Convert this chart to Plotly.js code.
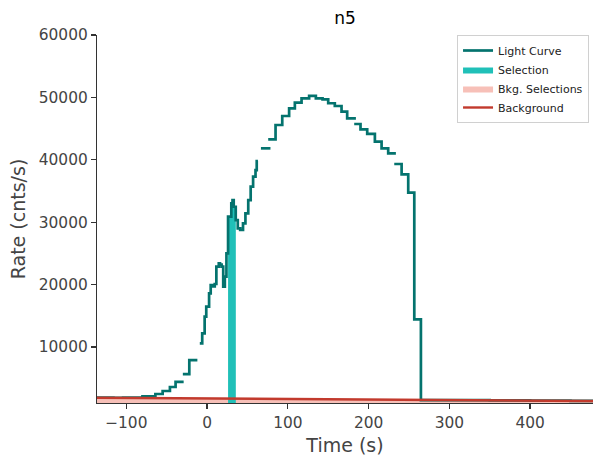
<!DOCTYPE html>
<html>
<head>
<meta charset="utf-8">
<script src="https://cdn.plot.ly/plotly-3.0.1.min.js"></script>
<style>html,body{margin:0;padding:0;background:#fff;}#chart{width:602px;height:465px;}</style>
</head>
<body>
<div id="chart"></div>
<script>
// Light curve (step, bin left edges; null = gap between segments)
const lcTime = [
  -140, -128, -116, -104, -92, -80, -64, -55, -46, -39, -29, null,
  -30, -22, -12, null,
  -9, -6, -3, -1, 2.5, 4.5, 7.5, 9.5, 11.5, 14.5, 16, 18, 20, 22, 24, 26, 28, 30, 31.5, 33, 35.5, 38, 41, 44.5, 47.5, 51, 54, 57, 60, 61.5, 63, null,
  66.7, 78.5, null,
  75.7, 84.8, 93.1, 101.6, 108.7, 117, 126.4, 134.7, 143, 150, 158.2, 166.5, 173.5, 184.3, null,
  182.2, 190, 198.3, 207.8, 216.1, 224.3, 233.8, null,
  231.8, 240.9, 249.1, 256.6, 264.8, 300, 350, 400, 450, 480
];
const lcRate = [
  1880, 1900, 1870, 1890, 1900, 2080, 2470, 2950, 3590, 4400, 4400, null,
  5670, 7900, 7900, null,
  10590, 12200, 14860, 16460, 18600, 19940, 19700, 20100, 22870, 23410, 23200, 22870, 19680, 21280, 25000, 30880, 30880, 33020, 33550, 32480, 30350, 29020, 28750, 29820, 31430, 33550, 35690, 37290, 38340, 39800, 39800, null,
  41840, 41840, null,
  43290, 45580, 47020, 48250, 49150, 49860, 50230, 49860, 49700, 49060, 48620, 47710, 46650, 46650, null,
  45740, 44890, 44140, 42900, 41840, 41040, 41040, null,
  39330, 37680, 34730, 14440, 1500, 1480, 1440, 1400, 1360, 1340
];

// Source selection
const selTime = [26, 28, 30, 31.5, 33, 35.6];
const selRate = [30880, 30880, 33020, 33550, 32480, 32480];

// Background selections (null = gap)
const bkgSelTime = [-140, -128, -116, -104, -92, -86, null, 300, 350, 400, 450, 480];
const bkgSelRate = [1880, 1900, 1870, 1890, 1900, 1900, null, 1480, 1440, 1400, 1360, 1340];

// Background model
const bkgTime = [-140, 0, 100, 200, 300, 400, 480];
const bkgRate = [1880, 1760, 1670, 1585, 1500, 1415, 1345];

const xTicks = [-100, 0, 100, 200, 300, 400];
const yTicks = [10000, 20000, 30000, 40000, 50000, 60000];

const FONT = 'DejaVu Sans, sans-serif';
const fmt = v => (v < 0 ? '\u2212' + Math.abs(v) : String(v));
const traces = [
  {x: bkgSelTime, y: bkgSelRate, type: 'scatter', mode: 'lines', line: {shape: 'hv', width: 0, color: 'rgba(240,130,115,0.55)'},
   fill: 'tozeroy', fillcolor: 'rgba(240,140,125,0.55)', name: 'Bkg. Selections', legendrank: 3, connectgaps: false},
  {x: selTime, y: selRate, type: 'scatter', mode: 'lines', line: {shape: 'hv', width: 0, color: '#20c0b8'},
   fill: 'tozeroy', fillcolor: '#20c0b8', name: 'Selection', legendrank: 2},
  {x: lcTime, y: lcRate, type: 'scatter', mode: 'lines', line: {shape: 'hv', width: 2.7, color: '#04736e'},
   name: 'Light Curve', legendrank: 1, connectgaps: false},
  {x: bkgTime, y: bkgRate, type: 'scatter', mode: 'lines', line: {width: 2.4, color: '#c23a2d'},
   name: 'Background', legendrank: 4}
];

const layout = {
  width: 602, height: 465,
  margin: {l: 97, r: 9, t: 35, b: 62},
  paper_bgcolor: '#fff', plot_bgcolor: '#fff',
  font: {family: FONT, color: '#333'},
  title: {text: 'n5', font: {family: FONT, size: 17, color: '#000'}, x: 0.573, xanchor: 'center', y: 0.961, yanchor: 'middle'},
  showlegend: true,
  legend: {x: 0.992, xanchor: 'right', y: 1.0, yanchor: 'top', bgcolor: '#fff', bordercolor: '#d0d0d0', borderwidth: 1,
           font: {family: FONT, size: 11, color: '#222'}, traceorder: 'normal'},
  xaxis: {range: [-136.3, 477.9], tickvals: xTicks, ticktext: xTicks.map(fmt), showgrid: false, zeroline: false,
          showline: true, linecolor: '#333', linewidth: 1.2, ticks: 'outside', ticklen: 5, tickwidth: 1.2, tickcolor: '#333',
          tickfont: {family: FONT, size: 15.4, color: '#444'},
          title: {text: 'Time (s)', font: {family: FONT, size: 19, color: '#444'}, standoff: 8}},
  yaxis: {range: [1030, 60000], tickvals: yTicks, ticktext: yTicks.map(fmt), showgrid: false, zeroline: false,
          showline: true, linecolor: '#333', linewidth: 1.2, ticks: 'outside', ticklen: 5, tickwidth: 1.2, tickcolor: '#333',
          tickfont: {family: FONT, size: 15.4, color: '#444'},
          title: {text: 'Rate (cnts/s)', font: {family: FONT, size: 19, color: '#444'}, standoff: 8}}
};

Plotly.newPlot('chart', traces, layout, {displayModeBar: false, staticPlot: true});
</script>
</body>
</html>
